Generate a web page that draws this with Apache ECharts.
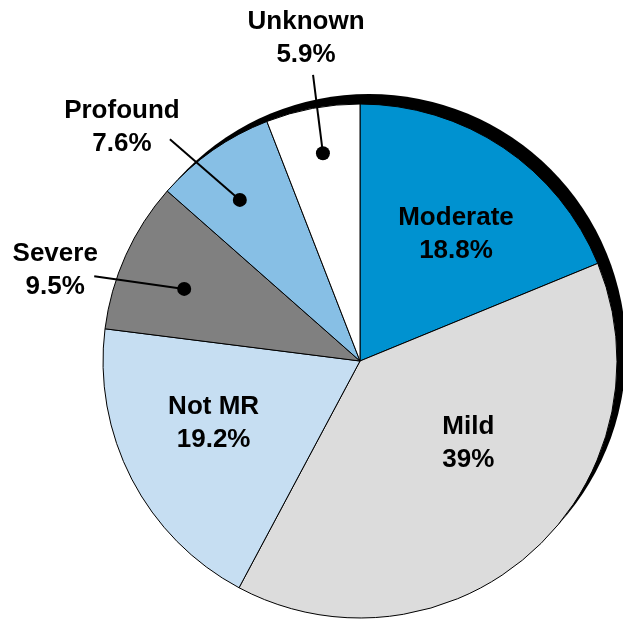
<!DOCTYPE html>
<html>
<head>
<meta charset="utf-8">
<script src="https://cdn.jsdelivr.net/npm/echarts@6/dist/echarts.min.js"></script>
<style>
html,body{margin:0;padding:0;background:#fff;}
#chart{width:623px;height:620px;}
</style>
</head>
<body>
<div id="chart"></div>
<script>
// ---- data ----
const categories = ['Moderate', 'Mild', 'Not MR', 'Severe', 'Profound', 'Unknown'];
const values = [18.8, 39, 19.2, 9.5, 7.6, 5.9];

// ---- style ----
const colors = ['#0092D0', '#DCDCDC', '#C6DEF2', '#808080', '#87BFE5', '#FFFFFF'];
const CX = 360, CY = 361, R = 257;
const SHADOW_DX = 9, SHADOW_DY = -10;
const FONT = {fontFamily: '"Liberation Sans", Arial, sans-serif', fontWeight: 'bold', fontSize: 26, lineHeight: 33, color: '#000'};
// label placement relative to each slice's mid-angle (polar: radius px, angle shift deg)
const labelPlace = [
  {text: {r: 159, dDeg: 3.3}},
  {text: {r: 136, dDeg: -10.7}},
  {text: {r: 159, dDeg: 4.4}},
  {dot: {r: 190, dDeg: -2.0}, end: {r: 279, dDeg: -6.6}, shift: [-39, -6]},
  {dot: {r: 201, dDeg: -1.8}, end: {r: 292, dDeg: -5.7}, shift: [-48, -12]},
  {dot: {r: 211, dDeg: 0.5}, end: {r: 290, dDeg: 1.3}, shift: [-7, -37]}
];

const total = values.reduce((a, b) => a + b, 0);
function midTheta(i) {
  let s = 0;
  for (let j = 0; j < i; j++) s += values[j];
  return (s + values[i] / 2) / total * Math.PI * 2;
}
function polar(i, p) {
  const t = midTheta(i) + p.dDeg * Math.PI / 180;
  return [CX + p.r * Math.sin(t), CY - p.r * Math.cos(t)];
}

const mainData = categories.map((name, i) => {
  const isCallout = !!labelPlace[i].dot;
  return {
    name: name,
    value: values[i],
    itemStyle: {color: colors[i]},
    label: {position: isCallout ? 'outside' : 'inside'}
  };
});
const dotData = categories.map((name, i) => ({
  name: name,
  value: values[i],
  label: {show: !!labelPlace[i].dot},
  labelLine: {show: !!labelPlace[i].dot}
}));

const chart = echarts.init(document.getElementById('chart'), null, {renderer: 'canvas'});
chart.setOption({
  animation: false,
  backgroundColor: '#fff',
  series: [
    {
      type: 'pie', silent: true, z: 1,
      center: [CX + SHADOW_DX, CY + SHADOW_DY], radius: R,
      data: [{value: 1, itemStyle: {color: '#000'}}],
      label: {show: false}, labelLine: {show: false}
    },
    {
      type: 'pie', silent: true, z: 2,
      center: [CX, CY], radius: R,
      startAngle: 90, clockwise: true,
      avoidLabelOverlap: false,
      itemStyle: {borderColor: '#000', borderWidth: 1},
      label: Object.assign({show: true, formatter: '{b}\n{c}%', align: 'center'}, FONT),
      labelLine: {show: false},
      labelLayout: function (params) {
        const i = params.dataIndex;
        const lp = labelPlace[i];
        if (!lp.dot) {
          const p = polar(i, lp.text);
          return {x: p[0], y: p[1], align: 'center', verticalAlign: 'middle'};
        }
        const e = polar(i, lp.end);
        return {x: e[0] + lp.shift[0], y: e[1] + lp.shift[1], align: 'center', verticalAlign: 'middle'};
      },
      data: mainData
    },
    {
      type: 'pie', silent: true, z: 3,
      center: [CX, CY], radius: R,
      startAngle: 90, clockwise: true,
      avoidLabelOverlap: false,
      itemStyle: {color: 'rgba(0,0,0,0)', borderWidth: 0},
      label: {
        show: true, position: 'outside', formatter: '{d|}',
        rich: {d: {width: 14, height: 14, borderRadius: 7, backgroundColor: '#000'}}
      },
      labelLine: {lineStyle: {color: '#000', width: 2}, length: 20, length2: 0},
      labelLayout: function (params) {
        const i = params.dataIndex;
        const lp = labelPlace[i];
        if (!lp.dot) return {};
        const d = polar(i, lp.dot);
        const e = polar(i, lp.end);
        return {x: d[0], y: d[1], align: 'center', verticalAlign: 'middle', labelLinePoints: [d, e, e]};
      },
      data: dotData
    }
  ]
});
</script>
</body>
</html>
